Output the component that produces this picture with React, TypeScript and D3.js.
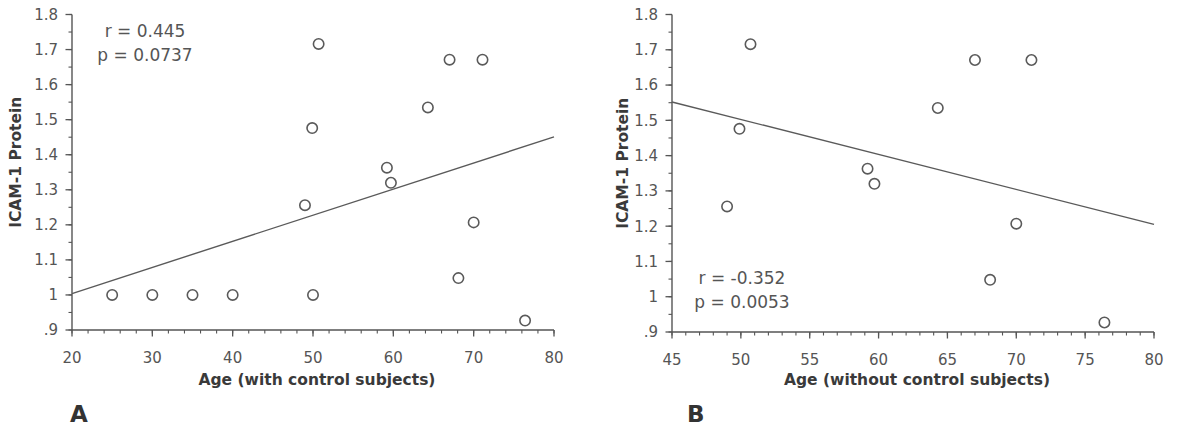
import React from "react";
import * as d3 from "d3";

// Age and ICAM-1 protein values
const controlAges = [25, 30, 35, 40, 50];
const controlProtein = [1.0, 1.0, 1.0, 1.0, 1.0];
const patientAges = [49.0, 49.9, 50.7, 59.2, 59.7, 64.3, 67.0, 68.1, 70.0, 71.1, 76.4];
const patientProtein = [1.256, 1.476, 1.716, 1.363, 1.32, 1.535, 1.671, 1.048, 1.207, 1.671, 0.927];

// Regression line end points
const fitAX = [20, 80];
const fitAY = [1.004, 1.451];
const fitBX = [45, 80];
const fitBY = [1.552, 1.205];

// Tick values and labels
const yTicks = [0.9, 1.0, 1.1, 1.2, 1.3, 1.4, 1.5, 1.6, 1.7, 1.8];
const yTickLabels = [".9", "1", "1.1", "1.2", "1.3", "1.4", "1.5", "1.6", "1.7", "1.8"];
const xTicksA = [20, 30, 40, 50, 60, 70, 80];
const xTicksB = [45, 50, 55, 60, 65, 70, 75, 80];

const statsA = ["r = 0.445", "p = 0.0737"];
const statsB = ["r = -0.352", "p = 0.0053"];

const AXIS = "#555";
const TICK_TEXT = "#555";
const TITLE = "#3a3a3a";
const FONT = "'DejaVu Sans', sans-serif";

type PanelProps = {
  xs: number[];
  ys: number[];
  xDomain: [number, number];
  xRange: [number, number];
  yRange: [number, number];
  xTicks: number[];
  xMinorStep: number;
  fitX: number[];
  fitY: number[];
  stats: string[];
  statsPos: [number, number];
  xTitle: string;
  yTitleX: number;
  letter: string;
  letterX: number;
};

function Panel(p: PanelProps) {
  const x = d3.scaleLinear().domain(p.xDomain).range(p.xRange);
  const y = d3.scaleLinear().domain([0.9, 1.8]).range(p.yRange);
  const x0 = p.xRange[0];
  const y0 = p.yRange[0];
  const minorX = d3.range(p.xDomain[0], p.xDomain[1] + 1e-9, p.xMinorStep);
  const minorY = d3.range(0.9, 1.8 + 1e-9, 0.05);
  const line = d3
    .line<number>()
    .x((_, i) => x(p.fitX[i]))
    .y((v) => y(v));
  const midX = (p.xRange[0] + p.xRange[1]) / 2;
  const midY = (p.yRange[0] + p.yRange[1]) / 2;

  return (
    <g fontFamily={FONT}>
      {/* axes */}
      <line x1={x0} x2={x0} y1={y(1.8)} y2={y0} stroke={AXIS} strokeWidth={1.4} />
      <line x1={x0} x2={p.xRange[1]} y1={y0} y2={y0} stroke={AXIS} strokeWidth={1.4} />
      {minorY.map((v, i) => (
        <line key={"my" + i} x1={x0 - 3.5} x2={x0} y1={y(v)} y2={y(v)} stroke={AXIS} strokeWidth={1.1} />
      ))}
      {minorX.map((v, i) => (
        <line key={"mx" + i} x1={x(v)} x2={x(v)} y1={y0} y2={y0 + 3.5} stroke={AXIS} strokeWidth={1.1} />
      ))}
      {yTicks.map((v, i) => (
        <g key={"yt" + i}>
          <line x1={x0 - 6.5} x2={x0} y1={y(v)} y2={y(v)} stroke={AXIS} strokeWidth={1.3} />
          <text x={x0 - 14} y={y(v)} dy="0.36em" textAnchor="end" fontSize={15} fill={TICK_TEXT}>
            {yTickLabels[i]}
          </text>
        </g>
      ))}
      {p.xTicks.map((v, i) => (
        <g key={"xt" + i}>
          <line x1={x(v)} x2={x(v)} y1={y0} y2={y0 + 6.5} stroke={AXIS} strokeWidth={1.3} />
          <text x={x(v)} y={y0 + 33} textAnchor="middle" fontSize={15} fill={TICK_TEXT}>
            {v}
          </text>
        </g>
      ))}
      {/* titles */}
      <text x={midX + 4} y={385} textAnchor="middle" fontSize={15.5} fontWeight="bold" fill={TITLE}>
        {p.xTitle}
      </text>
      <text
        transform={`translate(${p.yTitleX},${midY - 10}) rotate(-90)`}
        textAnchor="middle"
        dy="0.36em"
        fontSize={15.5}
        fontWeight="bold"
        fill={TITLE}
      >
        ICAM-1 Protein
      </text>
      <text x={p.letterX} y={422} fontSize={23} fontWeight="bold" fill="#333">
        {p.letter}
      </text>
      {/* regression line */}
      <path d={line(p.fitY) || ""} fill="none" stroke="#5a5a5a" strokeWidth={1.4} />
      {/* points */}
      {p.xs.map((v, i) => (
        <circle key={"pt" + i} cx={x(v)} cy={y(p.ys[i])} r={5.2} fill="none" stroke="#5a5a5a" strokeWidth={1.6} />
      ))}
      {/* stats */}
      {p.stats.map((s, i) => (
        <text
          key={"st" + i}
          x={p.statsPos[0]}
          y={p.statsPos[1] + i * 23.5}
          textAnchor="middle"
          fontSize={17}
          fill={TICK_TEXT}
        >
          {s}
        </text>
      ))}
    </g>
  );
}

export default function App() {
  return (
    <div style={{ position: "absolute", left: 0, top: 0 }}>
      <svg width={1177} height={432} style={{ display: "block", background: "#fff" }}>
        <Panel
          xs={[...controlAges, ...patientAges]}
          ys={[...controlProtein, ...patientProtein]}
          xDomain={[20, 80]}
          xRange={[72, 554]}
          yRange={[330, 14.5]}
          xTicks={xTicksA}
          xMinorStep={2}
          fitX={fitAX}
          fitY={fitAY}
          stats={statsA}
          statsPos={[145, 37]}
          xTitle="Age (with control subjects)"
          yTitleX={15}
          letter="A"
          letterX={70}
        />
        <Panel
          xs={patientAges}
          ys={patientProtein}
          xDomain={[45, 80]}
          xRange={[672, 1154]}
          yRange={[332, 14.5]}
          xTicks={xTicksB}
          xMinorStep={1}
          fitX={fitBX}
          fitY={fitBY}
          stats={statsB}
          statsPos={[742, 284]}
          xTitle="Age (without control subjects)"
          yTitleX={622}
          letter="B"
          letterX={687}
        />
      </svg>
    </div>
  );
}
